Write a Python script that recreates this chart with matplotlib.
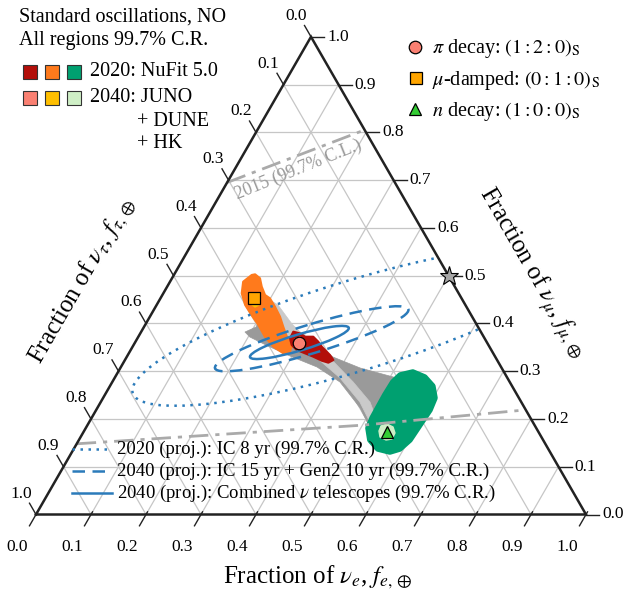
import numpy as np
import matplotlib
matplotlib.use("Agg")
import matplotlib.pyplot as plt
from matplotlib.patches import Polygon, Ellipse, Rectangle
from matplotlib.lines import Line2D

plt.rcParams["font.family"] = ["Liberation Serif", "DejaVu Serif"]
plt.rcParams["mathtext.fontset"] = "stix"

# ------------------------------------------------------------------ data
tick_values = [0.0, 0.1, 0.2, 0.3, 0.4, 0.5, 0.6, 0.7, 0.8, 0.9, 1.0]
tick_labels = ["0.0", "0.1", "0.2", "0.3", "0.4", "0.5", "0.6", "0.7", "0.8", "0.9", "1.0"]
grid_values = [0.1, 0.2, 0.3, 0.4, 0.5, 0.6, 0.7, 0.8, 0.9]

# best-fit flavor ratios at Earth (f_e, f_mu); f_tau = 1 - f_e - f_mu
pi_decay_fe, pi_decay_fmu = 0.299, 0.360
mu_damped_fe, mu_damped_fmu = 0.170, 0.454
n_decay_fe, n_decay_fmu = 0.553, 0.172
star_fe, star_fmu = 0.5, 0.5

# 2020 NuFit 5.0 regions (99.7% C.R.)
nufit_pi_fe = [0.2765, 0.290, 0.303, 0.318, 0.3324, 0.344, 0.3675, 0.379, 0.3726, 0.3585, 0.339, 0.3204, 0.3018, 0.2875, 0.2773]
nufit_pi_fmu = [0.3827, 0.3793, 0.3722, 0.3722, 0.3617, 0.3513, 0.3339, 0.3234, 0.3178, 0.3220, 0.3303, 0.3374, 0.3444, 0.3548, 0.3689]
nufit_mu_fe = [0.147, 0.1415, 0.133, 0.1425, 0.161, 0.183, 0.206, 0.230, 0.256, 0.281, 0.292, 0.289, 0.270, 0.253, 0.2366, 0.217, 0.199, 0.1867, 0.172, 0.160]
nufit_mu_fmu = [0.5028, 0.5014, 0.4873, 0.4631, 0.4386, 0.4176, 0.3967, 0.3722, 0.3513, 0.3374, 0.3387, 0.3513, 0.3722, 0.3931, 0.4141, 0.4350, 0.4526, 0.4595, 0.4769, 0.4945]
nufit_n_fe = [0.516, 0.536, 0.563, 0.587, 0.6035, 0.607, 0.602, 0.593, 0.578, 0.553, 0.529, 0.513, 0.510, 0.509, 0.510]
nufit_n_fmu = [0.2920, 0.2983, 0.2878, 0.2690, 0.2439, 0.2188, 0.1560, 0.1371, 0.1308, 0.1371, 0.1560, 0.1811, 0.2020, 0.2502, 0.2774]

# 2040 JUNO + DUNE + HK regions (99.7% C.R.)
future_pi_fe = [0.2872, 0.2942, 0.3075, 0.3120, 0.3050, 0.2927]
future_pi_fmu = [0.3674, 0.3716, 0.3632, 0.3506, 0.3465, 0.3527]
future_mu_fe = [0.1586, 0.1664, 0.1796, 0.1862, 0.1810, 0.1706]
future_mu_fmu = [0.4574, 0.4637, 0.4553, 0.4386, 0.4344, 0.4406]
future_n_fe = [0.5347, 0.5435, 0.5575, 0.5674, 0.5683, 0.5584, 0.5444, 0.5362]
future_n_fmu = [0.1853, 0.1894, 0.1832, 0.1706, 0.1580, 0.1560, 0.1622, 0.1748]

# all source compositions (0 <= f_e,S <= 1)
allsrc_2020_fe = [0.189, 0.204, 0.199, 0.218, 0.268, 0.289, 0.375, 0.436, 0.5135, 0.535, 0.537, 0.517, 0.478, 0.414, 0.3565, 0.296, 0.2455, 0.203]
allsrc_2020_fmu = [0.3820, 0.3925, 0.4449, 0.4365, 0.3946, 0.3820, 0.3297, 0.3067, 0.2857, 0.2711, 0.1769, 0.1811, 0.2229, 0.2774, 0.3088, 0.3318, 0.3527, 0.3716]
allsrc_2040_fe = [0.201, 0.2207, 0.266, 0.346, 0.382, 0.438, 0.4895, 0.521, 0.518, 0.471, 0.410, 0.347, 0.279, 0.2307]
allsrc_2040_fmu = [0.4490, 0.4386, 0.3988, 0.3402, 0.3192, 0.2774, 0.2355, 0.1978, 0.1853, 0.2355, 0.2857, 0.3276, 0.3653, 0.4113]

# projected neutrino-telescope contours (points read on each contour)
ic8_fe = [0.462, 0.402, 0.351, 0.299, 0.248, 0.210, 0.180, 0.150, 0.117, 0.089, 0.058, 0.035, 0.028, 0.0485, 0.0945, 0.152, 0.209, 0.264, 0.318, 0.373, 0.427, 0.477, 0.525, 0.570, 0.606]
ic8_fmu = [0.5328, 0.5187, 0.5014, 0.4840, 0.4631, 0.4421, 0.4176, 0.3931, 0.3617, 0.3339, 0.2989, 0.2711, 0.2502, 0.2328, 0.2257, 0.2307, 0.2397, 0.2502, 0.2627, 0.2747, 0.2885, 0.3094, 0.3339, 0.3653, 0.3910]
gen2_fe = [0.463, 0.434, 0.371, 0.319, 0.269, 0.222, 0.188, 0.170, 0.168, 0.190, 0.248, 0.300, 0.350, 0.397, 0.447]
gen2_fmu = [0.4212, 0.4317, 0.4245, 0.4072, 0.3862, 0.3584, 0.3303, 0.3165, 0.3094, 0.3010, 0.3061, 0.3234, 0.3444, 0.3722, 0.3931]
comb_fe = [0.230, 0.242, 0.276, 0.3275, 0.355, 0.370, 0.375, 0.371, 0.3415, 0.293, 0.257, 0.238]
comb_fmu = [0.3360, 0.3548, 0.3722, 0.3898, 0.3946, 0.3898, 0.3852, 0.3758, 0.3617, 0.3374, 0.3249, 0.3270]

# 2015 IceCube contour (99.7% C.L.), the parts inside the triangle
ic2015_upper_fe = [0.0, 0.195]
ic2015_upper_fmu = [0.695, 0.805]
ic2015_lower_fe = [0.0, 0.50, 0.781]
ic2015_lower_fmu = [0.148, 0.187, 0.219]

# ------------------------------------------------------------------ style
C_RED, C_ORANGE, C_GREEN = "#B30F0A", "#FF7A1C", "#00A070"
C_SALMON, C_GOLD, C_LGREEN = "#FA8072", "#FFBF00", "#CFEFC6"
C_GRAY, C_LGRAY = "#9A9A9A", "#CACACA"
C_BLUE = "#2B7BBA"
C_EDGE = "#222222"

W, H = 628, 600
S3 = np.sqrt(3) / 2


def tern(fe, fmu):
    fe = np.asarray(fe, float)
    fmu = np.asarray(fmu, float)
    return fe + fmu / 2, fmu * S3


def fpx(x, y):
    return x / W, 1 - y / H


fig = plt.figure(figsize=(W / 100, H / 100), dpi=100)
ax = fig.add_axes([36 / W, 1 - 514.5 / H, 550 / W, 477.7 / H])
ax.set_xlim(0, 1)
ax.set_ylim(0, S3)
ax.axis("off")

tri = Polygon([[0, 0], [1, 0], [0.5, S3]], closed=True, transform=ax.transData)

# grid
for v in grid_values:
    for (a_fe, a_mu), (b_fe, b_mu) in [((v, 0), (v, 1 - v)), ((0, v), (1 - v, v)), ((1 - v, 0), (0, 1 - v))]:
        x, y = tern([a_fe, b_fe], [a_mu, b_mu])
        ax.plot(x, y, color="#c6c6c6", lw=0.9, zorder=1)


def region(fe, fmu, color, z, lw=1.2):
    x, y = tern(fe, fmu)
    p = Polygon(np.column_stack([x, y]), closed=True, facecolor=color, edgecolor=color,
                lw=lw, joinstyle="round", zorder=z)
    p.set_clip_path(tri)
    ax.add_patch(p)


region(allsrc_2020_fe, allsrc_2020_fmu, C_GRAY, 2, lw=0.5)
region(allsrc_2040_fe, allsrc_2040_fmu, C_LGRAY, 2.5, lw=0.5)
region(nufit_mu_fe, nufit_mu_fmu, C_ORANGE, 3, lw=1.5)
region(nufit_pi_fe, nufit_pi_fmu, C_RED, 3, lw=1.5)
region(nufit_n_fe, nufit_n_fmu, C_GREEN, 3, lw=4)
region(future_mu_fe, future_mu_fmu, C_GOLD, 4, lw=1)
region(future_pi_fe, future_pi_fmu, C_SALMON, 4, lw=1)
region(future_n_fe, future_n_fmu, C_LGREEN, 4, lw=1)


def contour_ellipse(fe, fmu, **kw):
    x, y = tern(fe, fmu)
    D = np.column_stack([x * x, x * y, y * y, x, y, np.ones_like(x)])
    a, b, c, d, e, f = np.linalg.svd(D)[2][-1]
    A = np.array([[a, b / 2], [b / 2, c]])
    x0, y0 = np.linalg.solve(2 * A, [-d, -e])
    F0 = a * x0 * x0 + b * x0 * y0 + c * y0 * y0 + d * x0 + e * y0 + f
    lam, vec = np.linalg.eigh(A)
    r1, r2 = np.sqrt(-F0 / lam)
    ang = np.degrees(np.arctan2(vec[1, 0], vec[0, 0]))
    el = Ellipse((x0, y0), 2 * r1, 2 * r2, angle=ang, fill=False, zorder=5, **kw)
    el.set_clip_path(tri)
    ax.add_patch(el)


contour_ellipse(ic8_fe, ic8_fmu, edgecolor=C_BLUE, lw=1.8, linestyle=(0, (1, 2.2)))
contour_ellipse(gen2_fe, gen2_fmu, edgecolor=C_BLUE, lw=1.8, linestyle=(0, (5, 3)))
contour_ellipse(comb_fe, comb_fmu, edgecolor=C_BLUE, lw=1.8)

# 2015 contour
for fe, fmu in [(ic2015_upper_fe, ic2015_upper_fmu), (ic2015_lower_fe, ic2015_lower_fmu)]:
    x, y = tern(fe, fmu)
    ax.plot(x, y, color="#AAAAAA", lw=2.0, ls=(0, (7, 2.5, 1.5, 2.5)), zorder=5.5)

# triangle edges
x, y = tern([0, 1, 0, 0], [0, 0, 1, 0])
ax.plot(x, y, color=C_EDGE, lw=1.8, clip_on=False, zorder=6, solid_joinstyle="miter")

# ticks and tick labels
tl = 13 / 550
ext = 3 / 550
for v, lab in zip(tick_values, tick_labels):
    x, y = tern(v, 0)
    ax.plot([x + 0.5 * ext, x - 0.5 * tl], [y + S3 * ext, y - S3 * tl], color=C_EDGE, lw=1.0, clip_on=False, zorder=6)
    ax.annotate(lab, (x, y), xytext=(-0.5 * 38 * 0.72, -S3 * 38 * 0.72), textcoords="offset points",
                ha="center", va="center", fontsize=12.5, annotation_clip=False)
    x, y = tern(1 - v, v)
    ax.plot([x, x + tl], [y, y], color=C_EDGE, lw=1.0, clip_on=False, zorder=6)
    ax.annotate(lab, (x, y), xytext=(16 * 0.72, 0), textcoords="offset points",
                ha="left", va="center", fontsize=12.5, annotation_clip=False)
    x, y = tern(0, 1 - v)
    ax.plot([x, x - 0.5 * tl], [y, y + S3 * tl], color=C_EDGE, lw=1.0, clip_on=False, zorder=6)
    ax.annotate(lab, (x, y), xytext=(-15 * 0.72, 21 * 0.72), textcoords="offset points",
                ha="center", va="center", fontsize=12.5, annotation_clip=False)

# markers
ax.plot(*tern(pi_decay_fe, pi_decay_fmu), "o", ms=9, mfc=C_SALMON, mec="black", mew=0.9, zorder=10)
ax.plot(*tern(mu_damped_fe, mu_damped_fmu), "s", ms=9, mfc="#FFA500", mec="black", mew=0.9, zorder=10)
ax.plot(*tern(n_decay_fe, n_decay_fmu), "^", ms=9, mfc="#33CC33", mec="black", mew=0.9, zorder=10)
ax.plot(*tern(star_fe, star_fmu), "*", ms=14, mfc="#A6A6A6", mec="black", mew=0.8, zorder=10, clip_on=False)

# axis titles
fig.text(*fpx(318, 577), r"Fraction of $\nu_e$, $f_{e,\oplus}$", fontsize=18, ha="center", va="center")
fig.text(*fpx(82, 281), r"Fraction of $\nu_\tau$, $f_{\tau,\oplus}$", fontsize=18, ha="center", va="center",
         rotation=60, rotation_mode="anchor")
fig.text(*fpx(532, 273), r"Fraction of $\nu_\mu$, $f_{\mu,\oplus}$", fontsize=18, ha="center", va="center",
         rotation=-60, rotation_mode="anchor")

# 2015 label
fig.text(*fpx(298, 170), "2015 (99.7% C.L.)", fontsize=13, color="#999999", ha="center", va="center",
         rotation=22, rotation_mode="anchor")

# top-left legend
fig.text(*fpx(19, 17), "Standard oscillations, NO", fontsize=14.5, ha="left", va="center")
fig.text(*fpx(19, 40), "All regions 99.7% C.R.", fontsize=14.5, ha="left", va="center")
for row_y, cols in [(72, [C_RED, C_ORANGE, C_GREEN]), (98, [C_SALMON, C_GOLD, C_LGREEN])]:
    for cx, col in zip([30, 52, 74], cols):
        fig.add_artist(Rectangle(fpx(cx - 7, row_y + 7), 14 / W, 14 / H, facecolor=col,
                                 edgecolor="#333333", lw=0.8, transform=fig.transFigure))
fig.text(*fpx(90, 72), "2020: NuFit 5.0", fontsize=14.5, ha="left", va="center")
fig.text(*fpx(90, 98), "2040: JUNO", fontsize=14.5, ha="left", va="center")
fig.text(*fpx(137, 121), "+ DUNE", fontsize=14.5, ha="left", va="center")
fig.text(*fpx(137, 144), "+ HK", fontsize=14.5, ha="left", va="center")

# top-right legend
for (mx, my), mk, col, lab in [((415, 47), "o", C_SALMON, r"$\pi$ decay: $(1:2:0)_{\rm S}$"),
                               ((416, 78), "s", "#FFA500", r"$\mu$-damped: $(0:1:0)_{\rm S}$"),
                               ((415, 109), "^", "#33CC33", r"$n$ decay: $(1:0:0)_{\rm S}$")]:
    fig.add_artist(Line2D([mx / W], [1 - my / H], marker=mk, ms=9, mfc=col, mec="black", mew=0.9,
                          ls="none", transform=fig.transFigure))
    fig.text(*fpx(432, my + 2), lab, fontsize=14.5, ha="left", va="center")

# bottom legend
for ly, ls, lab in [(449, (0, (1, 2.2)), "2020 (proj.): IC 8 yr (99.7% C.R.)"),
                    (471, (0, (5, 3)), "2040 (proj.): IC 15 yr + Gen2 10 yr (99.7% C.R.)"),
                    (493, "-", r"2040 (proj.): Combined $\nu$ telescopes (99.7% C.R.)")]:
    fig.add_artist(Line2D([72 / W, 112 / W], [1 - ly / H] * 2, color=C_BLUE, lw=1.8, ls=ls,
                          transform=fig.transFigure))
    fig.text(*fpx(117, ly), lab, fontsize=13.5, ha="left", va="center")

fig.savefig("out.png", dpi=100)
